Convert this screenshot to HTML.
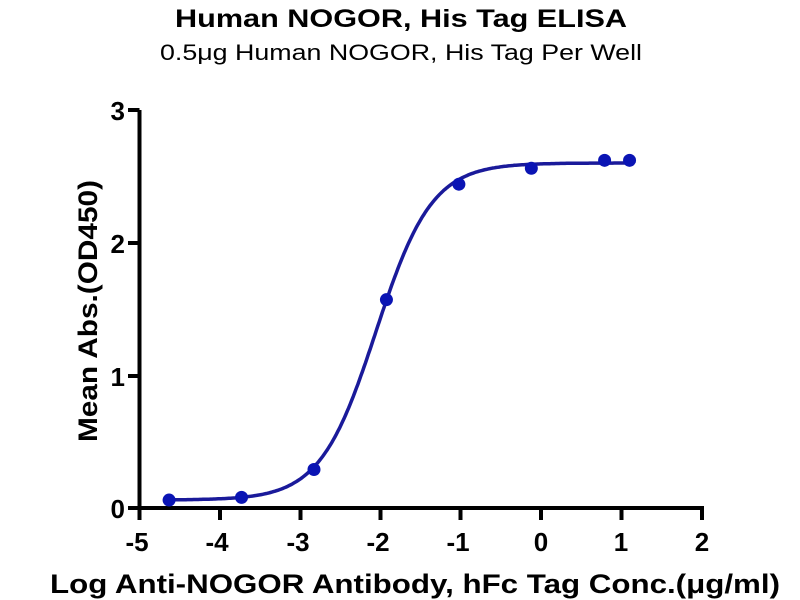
<!DOCTYPE html>
<html><head><meta charset="utf-8"><style>
body{margin:0;background:#fff;}
svg{display:block;font-family:"Liberation Sans",Arial,sans-serif;}
</style></head><body>
<svg id="s" width="800" height="600" viewBox="0 0 800 600">
<text x="401" y="27" text-anchor="middle" font-size="25" font-weight="bold" textLength="452" lengthAdjust="spacingAndGlyphs">Human NOGOR, His Tag ELISA</text>
<text x="401" y="60" text-anchor="middle" font-size="22" textLength="482" lengthAdjust="spacingAndGlyphs">0.5μg Human NOGOR, His Tag Per Well</text>
<g stroke="#000" stroke-width="4" fill="none">
<line x1="139.5" y1="110" x2="139.5" y2="510"/>
<line x1="137.5" y1="508" x2="704" y2="508"/>
<line x1="128" y1="110" x2="139.5" y2="110"/>
<line x1="128" y1="243" x2="139.5" y2="243"/>
<line x1="128" y1="376" x2="139.5" y2="376"/>
<line x1="128" y1="508" x2="139.5" y2="508"/>
<line x1="139.5" y1="508" x2="139.5" y2="520"/>
<line x1="220" y1="508" x2="220" y2="520"/>
<line x1="300.5" y1="508" x2="300.5" y2="520"/>
<line x1="380.5" y1="508" x2="380.5" y2="520"/>
<line x1="460.5" y1="508" x2="460.5" y2="520"/>
<line x1="541" y1="508" x2="541" y2="520"/>
<line x1="621.5" y1="508" x2="621.5" y2="520"/>
<line x1="702" y1="508" x2="702" y2="520"/>
</g>
<g font-size="26" font-weight="bold" text-anchor="end">
<text x="125" y="120">3</text><text x="125" y="253">2</text><text x="125" y="386">1</text><text x="125" y="518">0</text>
</g>
<g font-size="26" font-weight="bold" text-anchor="middle">
<text x="137" y="551">-5</text><text x="217" y="551">-4</text><text x="298" y="551">-3</text><text x="378" y="551">-2</text><text x="458" y="551">-1</text><text x="541" y="551">0</text><text x="621" y="551">1</text><text x="702" y="551">2</text>
</g>
<text x="415" y="593" text-anchor="middle" font-size="27" font-weight="bold" textLength="730" lengthAdjust="spacingAndGlyphs">Log Anti-NOGOR Antibody, hFc Tag Conc.(μg/ml)</text>
<text transform="translate(97,311) rotate(-90)" text-anchor="middle" font-size="27" font-weight="bold" textLength="262" lengthAdjust="spacingAndGlyphs">Mean Abs.(OD450)</text>
<path id="c" fill="none" stroke="#1a1a9a" stroke-width="3.5"/>
<g id="p" fill="#0a14b4"></g>
</svg>
<script>
var X=v=>541+80.5*v,Y=v=>508-132.7*v;
var d="";for(var i=0;i<=300;i++){var x=-4.62+i*(1.1+4.62)/300;var y=0.06+(2.6-0.06)/(1+Math.pow(10,1.25*(-2.05-x)));d+=(i?"L":"M")+X(x).toFixed(1)+" "+Y(y).toFixed(1);}
document.getElementById("c").setAttribute("d",d);
var pts=[[-4.62,0.06],[-3.72,0.08],[-2.82,0.29],[-1.92,1.57],[-1.02,2.44],[-0.12,2.56],[0.79,2.62],[1.1,2.62]];
var g=document.getElementById("p");pts.forEach(p=>{var c=document.createElementNS("http://www.w3.org/2000/svg","circle");c.setAttribute("cx",X(p[0]));c.setAttribute("cy",Y(p[1]));c.setAttribute("r",6.5);g.appendChild(c);});
</script>
</body></html>
